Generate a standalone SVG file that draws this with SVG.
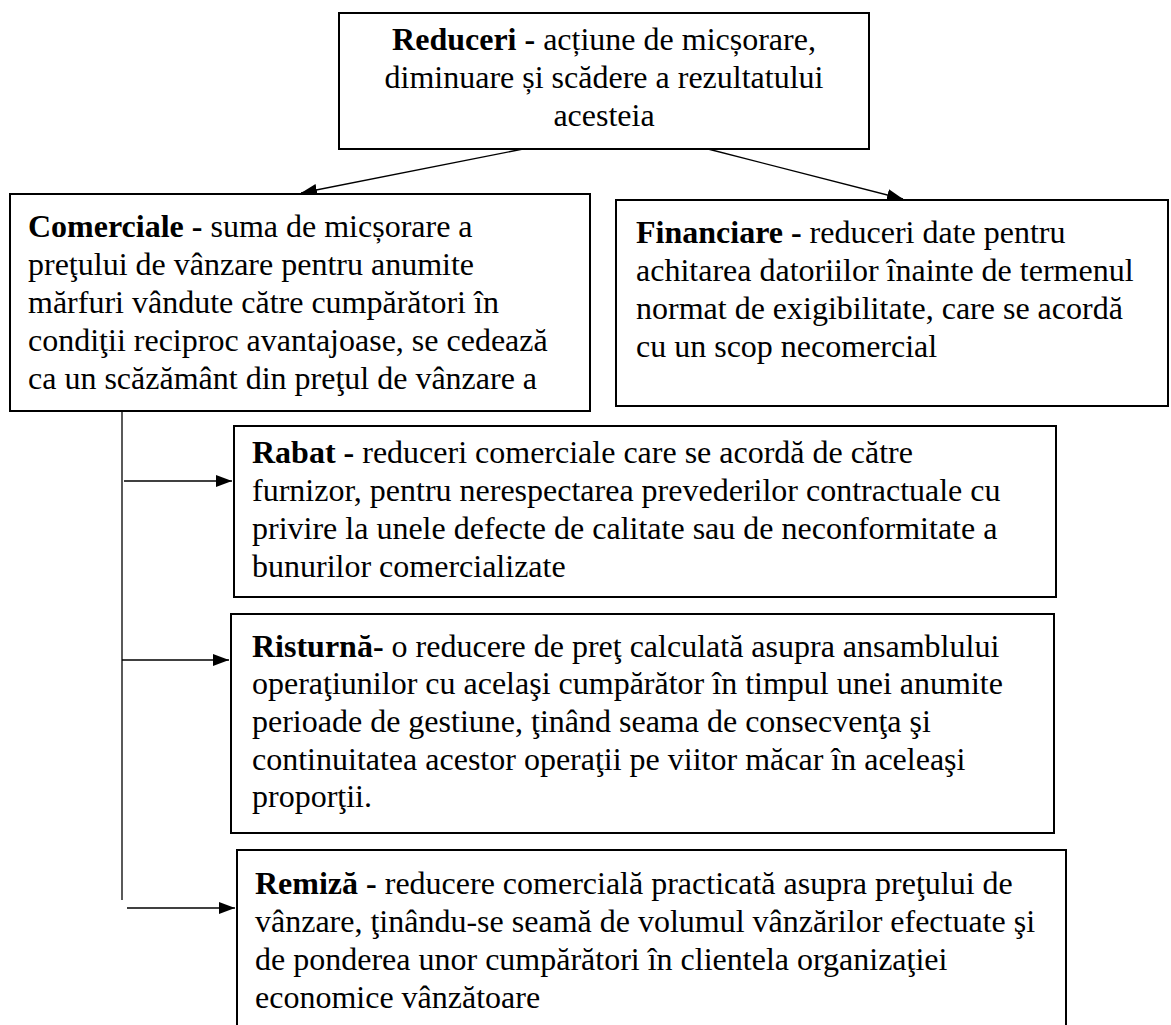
<svg xmlns="http://www.w3.org/2000/svg" width="1171" height="1025" viewBox="0 0 1171 1025">
<style>
.box{fill:#fff;stroke:#000;stroke-width:2}
.t{font-family:"Liberation Serif","Times New Roman",serif;font-size:32px;fill:#000}
.b{font-weight:bold}
.c{text-anchor:middle}
.ln{stroke:#000;stroke-width:1.3;fill:none}
</style>
<defs>
<marker id="ah" markerWidth="16" markerHeight="12" refX="16" refY="6" orient="auto" markerUnits="userSpaceOnUse">
<path d="M0,0 L16,6 L0,12 Z" fill="#000"/>
</marker>
</defs>
<rect width="1171" height="1025" fill="#fff"/>
<g id="connectors">
<line class="ln" x1="523" y1="149" x2="301" y2="193" marker-end="url(#ah)"/>
<line class="ln" x1="708" y1="149" x2="903" y2="199" marker-end="url(#ah)"/>
<line class="ln" x1="122" y1="411" x2="122" y2="900"/>
<line class="ln" x1="124" y1="481" x2="232" y2="481" marker-end="url(#ah)"/>
<line class="ln" x1="122" y1="660" x2="229" y2="660" marker-end="url(#ah)"/>
<line class="ln" x1="127" y1="908" x2="235" y2="908" marker-end="url(#ah)"/>
</g>
<g id="reduceri">
<rect class="box" x="339" y="13" width="530" height="136"/>
<text class="t c" x="604" y="50"><tspan class="b">Reduceri -</tspan> acțiune de micșorare,</text>
<text class="t c" x="604" y="88">diminuare și scădere a rezultatului</text>
<text class="t c" x="604" y="126">acesteia</text>
</g>
<g id="comerciale">
<rect class="box" x="10" y="194" width="580" height="217"/>
<text class="t" x="28" y="237"><tspan class="b">Comerciale -</tspan> suma de micșorare a</text>
<text class="t" x="28" y="275">preţului de vânzare pentru anumite</text>
<text class="t" x="28" y="313">mărfuri vândute către cumpărători în</text>
<text class="t" x="28" y="351">condiţii reciproc avantajoase, se cedează</text>
<text class="t" x="28" y="389">ca un scăzământ din preţul de vânzare a</text>
</g>
<g id="financiare">
<rect class="box" x="616" y="200" width="552" height="206"/>
<text class="t" x="636" y="243"><tspan class="b">Financiare -</tspan> reduceri date pentru</text>
<text class="t" x="636" y="281">achitarea datoriilor înainte de termenul</text>
<text class="t" x="636" y="319">normat de exigibilitate, care se acordă</text>
<text class="t" x="636" y="357">cu un scop necomercial</text>
</g>
<g id="rabat">
<rect class="box" x="234" y="426" width="822" height="171"/>
<text class="t" x="252" y="463"><tspan class="b">Rabat -</tspan> reduceri comerciale care se acordă de către</text>
<text class="t" x="252" y="501">furnizor, pentru nerespectarea prevederilor contractuale cu</text>
<text class="t" x="252" y="539">privire la unele defecte de calitate sau de neconformitate a</text>
<text class="t" x="252" y="577">bunurilor comercializate</text>
</g>
<g id="risturna">
<rect class="box" x="231" y="614" width="823" height="219"/>
<text class="t" x="252" y="657"><tspan class="b">Risturnă-</tspan> o reducere de preţ calculată asupra ansamblului</text>
<text class="t" x="252" y="694">operaţiunilor cu acelaşi cumpărător în timpul unei anumite</text>
<text class="t" x="252" y="732">perioade de gestiune, ţinând seama de consecvenţa şi</text>
<text class="t" x="252" y="770">continuitatea acestor operaţii pe viitor măcar în aceleaşi</text>
<text class="t" x="252" y="807">proporţii.</text>
</g>
<g id="remiza">
<rect class="box" x="237" y="850" width="829" height="190"/>
<text class="t" x="255" y="894"><tspan class="b">Remiză -</tspan> reducere comercială practicată asupra preţului de</text>
<text class="t" x="255" y="932">vânzare, ţinându-se seamă de volumul vânzărilor efectuate şi</text>
<text class="t" x="255" y="970">de ponderea unor cumpărători în clientela organizaţiei</text>
<text class="t" x="255" y="1008">economice vânzătoare</text>
</g>
</svg>
